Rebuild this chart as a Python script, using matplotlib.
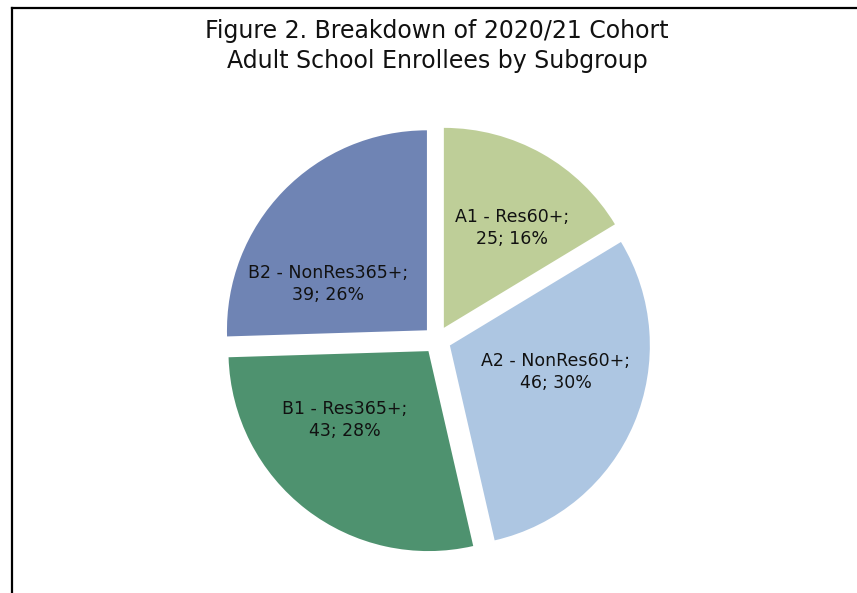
import matplotlib
matplotlib.use('Agg')
import matplotlib.pyplot as plt
from matplotlib.lines import Line2D

names = ['A1 - Res60+', 'A2 - NonRes60+', 'B1 - Res365+', 'B2 - NonRes365+']
counts = [25, 46, 43, 39]
pcts = [16, 30, 28, 26]
colors = ['#BECE98', '#ADC6E2', '#4E926F', '#6F84B4']

labels = [f'{n};\n{c}; {p}%' for n, c, p in zip(names, counts, pcts)]

# label placement (Excel-style, in pie radius units)
label_xy = [(0.375, 0.56), (0.595, -0.16), (-0.46, -0.40), (-0.545, 0.28)]

fig = plt.figure(figsize=(8.57, 5.93), dpi=100)

# pie axes: centre at ~(437, 340) px, radius ~200 px
ax = fig.add_axes([0.2299, 0.0219, 0.560, 0.8094])
wedges, texts = ax.pie(counts, labels=labels, colors=colors, startangle=90,
                       counterclock=False, explode=[0.07] * 4, labeldistance=0.6,
                       textprops=dict(fontsize=12.5, color='#111111', ha='center',
                                      va='center', linespacing=1.3),
                       wedgeprops=dict(linewidth=0))
for t, xy in zip(texts, label_xy):
    t.set_position(xy)
    t.set_ha('center')
ax.set_xlim(-1.2, 1.2)
ax.set_ylim(-1.2, 1.2)
ax.set_aspect('equal')
ax.axis('off')

fig.text(0.51, 1 - 46 / 593, 'Figure 2. Breakdown of 2020/21 Cohort\nAdult School Enrollees by Subgroup',
         ha='center', va='center', fontsize=17, color='#111111', linespacing=1.3)

# frame (cut off at right and bottom like the screenshot)
x0 = 12 / 857
y0 = 1 - 7.5 / 593
fig.add_artist(Line2D([x0, x0], [0, y0], transform=fig.transFigure, color='black', lw=1.6))
fig.add_artist(Line2D([x0, 1], [y0, y0], transform=fig.transFigure, color='black', lw=1.6))

plt.savefig('out.png', dpi=100)
